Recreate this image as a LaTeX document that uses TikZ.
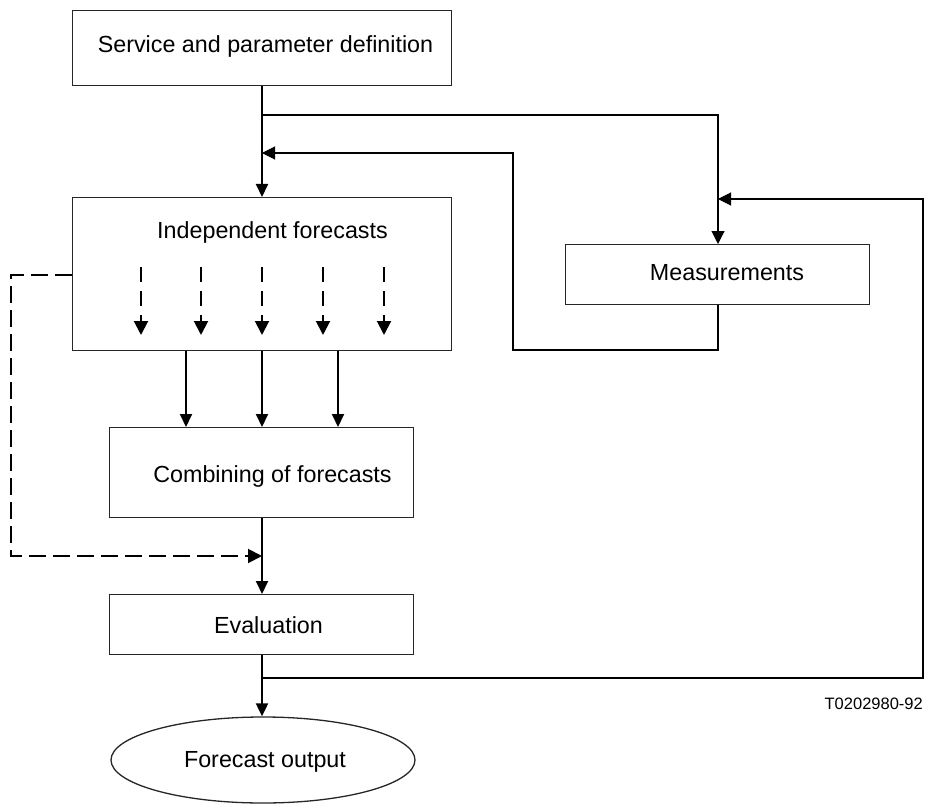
\documentclass[tikz,border=0pt]{standalone}
\usepackage{fontspec}
\setmainfont{Liberation Sans}
\usetikzlibrary{arrows.meta,shapes.geometric}
\begin{document}
\begin{tikzpicture}[x=1pt,y=-1pt,
 box/.style={draw=black!85,line width=1.3pt,rectangle,inner sep=0pt,anchor=north west},
 lbl/.style={font=\fontsize{23.3}{28}\selectfont,anchor=base,inner sep=0pt},
 main/.style={line width=2pt,-{Triangle[length=13pt,width=12pt]}},
 thinline/.style={line width=1.1pt},
 thinarrow/.style={thinline,-{Triangle[length=13pt,width=13pt]}},
 dsh/.style={line width=2pt,dash pattern=on 15pt off 9pt,-{Triangle[length=14pt,width=14pt]}}
]
\useasboundingbox (0,0) rectangle (926,805);

% boxes
\node[box,minimum width=379pt,minimum height=75pt] (svc) at (72,10) {};
\node[box,minimum width=379pt,minimum height=153pt] (ind) at (72,197) {};
\node[box,minimum width=304pt,minimum height=60pt] (meas) at (565,244) {};
\node[box,minimum width=304pt,minimum height=90pt] (comb) at (109,427) {};
\node[box,minimum width=304pt,minimum height=60pt] (eval) at (109,594) {};
\node[draw=black!85,line width=1.3pt,ellipse,minimum width=304pt,minimum height=86pt,inner sep=0pt] (out) at (263,760) {};

% labels
\node[lbl] (tsvc) at (265.5,52.7) {Service and parameter definition};
\node[lbl] (tind) at (272.5,238) {Independent forecasts};
\node[lbl] (tmeas) at (727,280) {Measurements};
\node[lbl] (tcomb) at (272.5,482.7) {Combining of forecasts};
\node[lbl] (teval) at (268.5,633) {Evaluation};
\node[lbl] (tout) at (265,767) {Forecast output};
\node[font=\fontsize{16.5}{20}\selectfont,anchor=base east,inner sep=0pt] (code) at (923,709) {T0202980-92};

% coordinates
\coordinate (j1) at (262,115);
\coordinate (j2) at (262,153);
\coordinate (j3) at (262,556);
\coordinate (j4) at (262,678);
\coordinate (j5) at (718,199);
\coordinate (mx) at (718,0);
\coordinate (a1) at (186,0);
\coordinate (a2) at (262,0);
\coordinate (a3) at (338,0);
\coordinate (d1) at (72,275);

% main flow
\draw[main] (svc.south -| a2) -- (ind.north -| a2);
\draw[main] (ind.south -| a1) -- (comb.north -| a1);
\draw[main] (ind.south -| a2) -- (comb.north -| a2);
\draw[main] (ind.south -| a3) -- (comb.north -| a3);
\draw[main] (comb.south -| a2) -- (eval.north -| a2);
\draw[main] (eval.south -| a2) -- (out.north -| a2);

% measurement loop
\draw[thinarrow] (j1) -| (meas.north -| mx);
\draw[thinarrow] (meas.south -| mx) -- (718,350) -- (513,350) -- (513,153) -- (j2);
\draw[thinarrow] (j4) -- (923,678) -- (923,199) -- (j5);

% dashed
\foreach \x/\n in {141/p1,201/p2,262/p3,323/p4,384/p5}{
  \coordinate (\n s) at (\x,267);
  \coordinate (\n e) at (\x,335);
  \draw[dsh] (\n s) -- (\n e);
}
\draw[line width=2pt,dash pattern=on 17pt off 7pt,-{Triangle[length=14pt,width=14pt]}] (d1) -- (11,275) -- (11,556) -- (j3);
\end{tikzpicture}
\end{document}
